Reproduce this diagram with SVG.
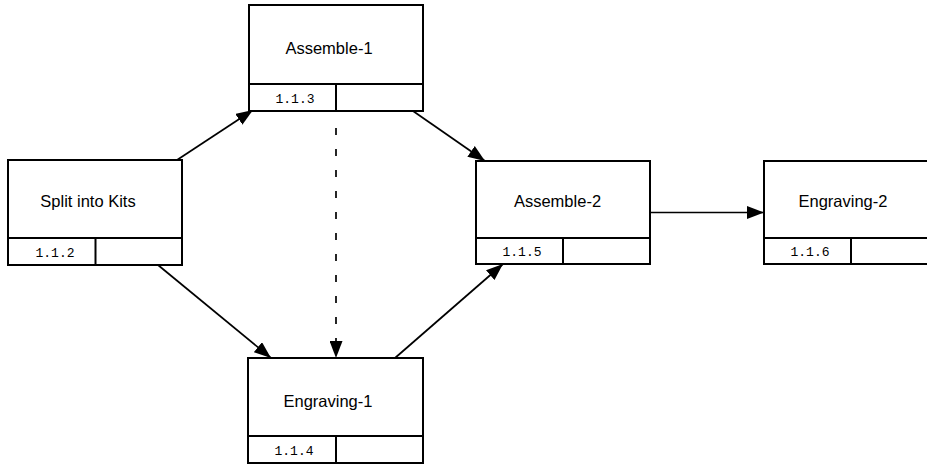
<svg xmlns="http://www.w3.org/2000/svg" width="927" height="464" viewBox="0 0 927 464">
<defs>
<style>
.box{fill:#fff;stroke:#000;stroke-width:2}
.div{stroke:#000;stroke-width:2;fill:none}
.lbl{font-family:"Liberation Sans",Arial,sans-serif;font-size:16.5px;fill:#000;text-anchor:middle}
.num{font-family:"Liberation Mono","Courier New",monospace;font-size:13px;fill:#000;text-anchor:middle}
.edge{stroke:#000;stroke-width:1.7;fill:none;marker-end:url(#arr)}
.dash{stroke-dasharray:7 14}
</style>
<marker id="arr" markerUnits="userSpaceOnUse" markerWidth="17" markerHeight="13" refX="17" refY="6.5" orient="auto">
<path d="M0,0 L17,6.5 L0,13 z" fill="#000" stroke="none"/>
</marker>
</defs>
<g id="connectors">
<line class="edge" x1="177" y1="160" x2="253" y2="110"/>
<line class="edge" x1="413" y1="111" x2="485" y2="161"/>
<line class="edge" x1="158" y1="265" x2="271" y2="358"/>
<line class="edge" x1="395" y1="358" x2="503" y2="264"/>
<line class="edge" x1="650" y1="212.5" x2="764" y2="212.5"/>
<line class="edge dash" x1="336" y1="128" x2="336" y2="358"/>
</g>
<g id="n112">
<rect class="box" x="8" y="160" width="174" height="105"/>
<path class="div" d="M8,238 H182 M95.5,238 V265"/>
<text class="lbl" x="88" y="207">Split into Kits</text>
<text class="num" x="55" y="257">1.1.2</text>
</g>
<g id="n113">
<rect class="box" x="249" y="5" width="174" height="106"/>
<path class="div" d="M249,84 H423 M336,84 V111"/>
<text class="lbl" x="329" y="54">Assemble-1</text>
<text class="num" x="295" y="103">1.1.3</text>
</g>
<g id="n114">
<rect class="box" x="248" y="358" width="175" height="105"/>
<path class="div" d="M248,436 H423 M336,436 V463"/>
<text class="lbl" x="328" y="407">Engraving-1</text>
<text class="num" x="294" y="455">1.1.4</text>
</g>
<g id="n115">
<rect class="box" x="476" y="161" width="174" height="103"/>
<path class="div" d="M476,238 H650 M563,238 V264"/>
<text class="lbl" x="557.5" y="207">Assemble-2</text>
<text class="num" x="522" y="256">1.1.5</text>
</g>
<g id="n116">
<rect class="box" x="764" y="161" width="174" height="103"/>
<path class="div" d="M764,238 H938 M851,238 V264"/>
<text class="lbl" x="843" y="207">Engraving-2</text>
<text class="num" x="810" y="256">1.1.6</text>
</g>
</svg>
